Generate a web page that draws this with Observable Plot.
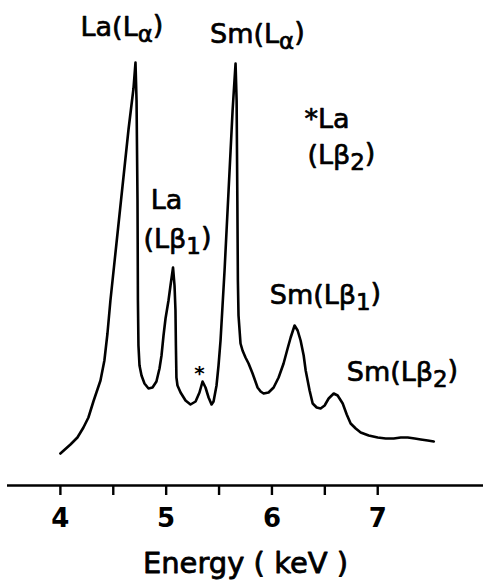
<!DOCTYPE html>
<html><head><meta charset="utf-8">
<script src="https://cdn.jsdelivr.net/npm/d3@7"></script>
<script src="https://cdn.jsdelivr.net/npm/@observablehq/plot@0.6"></script>
<style>body{margin:0;background:#fff;} #chart svg{display:block}</style>
</head><body><div id="chart"></div>
<script>
// Spectrum trace (energy in keV, intensity in arbitrary units)
const energy = [4.000,4.095,4.161,4.218,4.265,4.312,4.379,4.416,4.445,4.473,4.530,4.587,4.644,4.691,4.710,
  4.720,4.729,4.733,4.738,4.748,4.767,4.795,4.833,4.871,4.908,4.937,4.956,4.975,4.994,5.022,5.041,5.065,
  5.079,5.088,5.092,5.097,5.107,5.136,5.183,5.230,5.278,5.315,5.344,5.372,5.401,5.429,5.448,5.476,5.495,
  5.514,5.533,5.552,5.571,5.590,5.609,5.628,5.647,5.656,5.666,5.673,5.678,5.684,5.703,5.722,5.750,5.779,
  5.817,5.864,5.893,5.921,5.968,6.016,6.063,6.110,6.148,6.177,6.214,6.243,6.271,6.300,6.319,6.356,6.385,
  6.423,6.460,6.498,6.536,6.584,6.621,6.669,6.707,6.744,6.792,6.839,6.915,7.000,7.076,7.151,7.218,7.284,
  7.350,7.407,7.473,7.530];
const intensity = [32,41,48,58,68,84,105,125,152,185,242,299,356,397,423,
  385,285,185,140,120,110,102,97,98,104,117,130,150,167,185,200,218,
  200,175,140,108,100,93,85,81,84,93,104,98,88,81,84,100,120,
  145,180,215,255,295,335,375,407,422,385,285,205,170,142,135,128,122,
  112,98,94,92,93,98,108,122,137,148,160,155,145,130,115,95,82,
  78,77,80,87,92,90,82,71,62,57,53,50,48,47,47,48,48,
  47,46,45,44];

const tickValues = [4, 4.5, 5, 5.5, 6, 6.5, 7];
const tickLabels = ["4", "", "5", "", "6", "", "7"];

// Peak annotations ("_" marks the following character as a subscript)
const labelText = ["La(L_α)", "Sm(L_α)", "*La", "(Lβ_2)", "La", "(Lβ_1)", "Sm(Lβ_1)", "Sm(Lβ_2)", "*"];
const labelEnergy = [4.582, 5.863, 6.520, 6.657, 5.003, 5.107, 6.506, 7.234, 5.315];
const labelIntensity = [450, 443, 358, 322, 277, 238, 182, 105, 106];

const axisTitle = "Energy ( keV )";

const spectrum = energy.map((e, i) => ({energy: e, intensity: intensity[i]}));
const labels = labelText.map((t, i) => ({text: t, energy: labelEnergy[i], intensity: labelIntensity[i]}));
const mainLabels = labels.filter(d => d.text !== "*");
const starLabels = labels.filter(d => d.text === "*");

const svg = Plot.plot({
  width: 484,
  height: 582,
  marginLeft: 7,
  marginRight: 1,
  marginTop: 0,
  marginBottom: 97,
  style: {fontFamily: "'DejaVu Sans', sans-serif", background: "#fff", color: "#000", overflow: "visible"},
  x: {domain: [3.5, 8.0]},
  y: {domain: [0, 485], axis: null},
  marks: [
    Plot.ruleY([0], {stroke: "#000", strokeWidth: 2.6}),
    Plot.axisX({
      ticks: tickValues,
      tickFormat: d => tickLabels[tickValues.indexOf(d)],
      tickSize: 10,
      tickPadding: 13,
      strokeWidth: 2.4,
      fontSize: 26,
      fontWeight: "bold",
      label: null
    }),
    Plot.line(spectrum, {x: "energy", y: "intensity", stroke: "#000", strokeWidth: 2.6, curve: "linear", strokeLinejoin: "round"}),
    Plot.text(mainLabels, {x: "energy", y: "intensity", text: "text", fontSize: 27, lineAnchor: "bottom", textAnchor: "middle", fill: "#000", stroke: "#000", strokeWidth: 0.7, className: "peak-labels"}),
    Plot.text(starLabels, {x: "energy", y: "intensity", text: "text", fontSize: 20, fontWeight: "bold", lineAnchor: "bottom", textAnchor: "middle", fill: "#000"}),
    Plot.text([axisTitle], {frameAnchor: "bottom", dy: 87, fontSize: 29, lineAnchor: "bottom", fill: "#000", stroke: "#000", strokeWidth: 0.8, letterSpacing: 0.5})
  ]
});

// Render subscripts as tspans
svg.querySelectorAll(".peak-labels text").forEach(t => {
  const s = t.textContent;
  const k = s.indexOf("_");
  if (k < 0) return;
  const pre = s.slice(0, k), sub = s.slice(k + 1, k + 2), post = s.slice(k + 2);
  t.textContent = "";
  const ns = "http://www.w3.org/2000/svg";
  const a = document.createElementNS(ns, "tspan"); a.textContent = pre; t.appendChild(a);
  const b = document.createElementNS(ns, "tspan"); b.textContent = sub;
  b.setAttribute("dy", "0.3em"); b.setAttribute("font-size", "85%"); t.appendChild(b);
  const c = document.createElementNS(ns, "tspan"); c.textContent = post;
  c.setAttribute("dy", "-0.3em"); t.appendChild(c);
});

document.getElementById("chart").appendChild(svg);
</script>
</body></html>
